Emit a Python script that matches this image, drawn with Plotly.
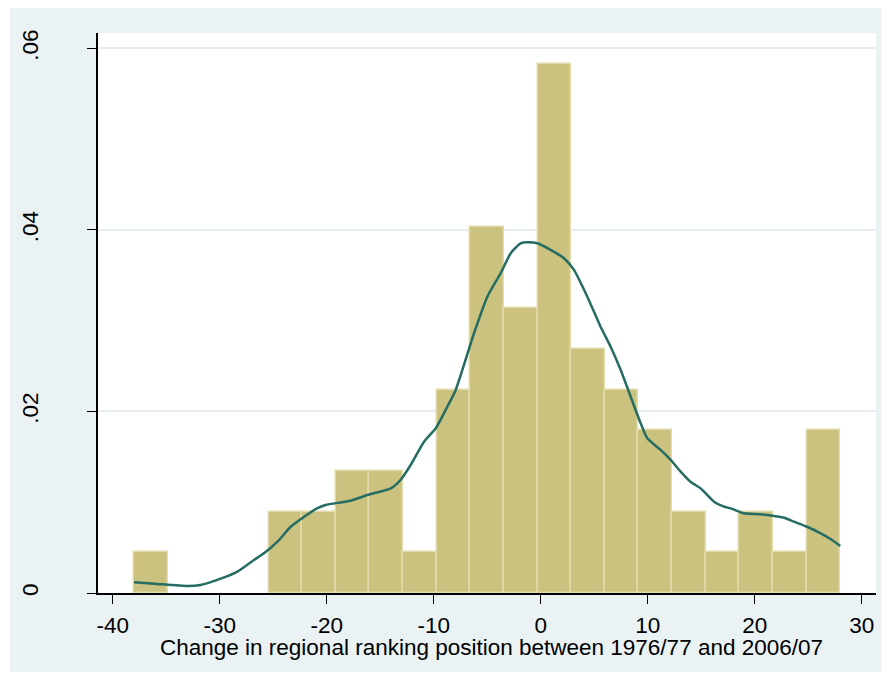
import plotly.graph_objects as go

# ---- data ----
bin_start = -38.0
bin_width = 66.0 / 21
counts = [1, 0, 0, 0, 2, 2, 3, 3, 1, 5, 9, 7, 13, 6, 5, 4, 2, 1, 2, 1, 4]
n_obs = 71

kde_x = [-38.0, -36.1, -33.0, -31.8, -29.9, -28.35, -26.8, -25.86, -24.6, -23.36,
         -22.1, -20.9, -20.1, -17.76, -16.2, -14.0, -13.1, -12.15, -10.9, -9.8,
         -8.72, -7.94, -6.23, -4.98, -3.74, -2.8, -1.87, -1.24, -0.31, 0.93,
         2.18, 3.11, 4.36, 5.6, 6.54, 7.48, 8.41, 9.35, 9.97, 11.21,
         12.15, 13.08, 14.0, 14.95, 16.2, 17.13, 17.76, 19.0, 20.56, 22.74,
         23.68, 24.9, 26.17, 27.1, 28.0]
kde_y = [0.00118, 0.00103, 0.00077, 0.00088, 0.00158, 0.00235, 0.00364, 0.00437, 0.00565, 0.0073,
         0.0084, 0.00933, 0.0097, 0.01017, 0.0108, 0.01153, 0.01245, 0.0141, 0.01667, 0.01815,
         0.02053, 0.02237, 0.02862, 0.03265, 0.03523, 0.03743, 0.03853, 0.03864, 0.03853, 0.0378,
         0.03688, 0.0356, 0.03265, 0.02934, 0.02714, 0.02457, 0.02163, 0.0187, 0.01705, 0.01576,
         0.01466, 0.01337, 0.01226, 0.01153, 0.01006, 0.00951, 0.00933, 0.00878, 0.00867, 0.0083,
         0.00786, 0.0073, 0.00658, 0.00595, 0.00518]

x_ticks = [-40, -30, -20, -10, 0, 10, 20, 30]
x_ticktext = ["-40", "-30", "-20", "-10", "0", "10", "20", "30"]
y_ticks = [0, 0.02, 0.04, 0.06]
y_ticktext = ["0", ".02", ".04", ".06"]
x_title = "Change in regional ranking position between 1976/77 and 2006/07"

# ---- derived ----
centers = [bin_start + (i + 0.5) * bin_width for i in range(len(counts))]
density = [c / (n_obs * bin_width) if c > 0 else None for c in counts]

BG = "#EAF2F3"
FONT = "Liberation Sans, Arial, sans-serif"

fig = go.Figure()
fig.add_trace(go.Bar(
    x=centers, y=density, width=bin_width,
    marker=dict(color="#CBC27F", line=dict(color="#E2DCAA", width=1.5)),
    hoverinfo="skip", showlegend=False,
))
fig.add_trace(go.Scatter(
    x=kde_x, y=kde_y, mode="lines",
    line=dict(color="#256C62", width=2.5, shape="spline", smoothing=0.6),
    showlegend=False,
))

# plot-area geometry (pixels)
W, H = 887, 680
L, R, T, B = 98, 11, 33, 87
pw, ph = W - L - R, H - T - B

def px(xp):
    return (xp - L) / pw

def py(yp):
    return (H - B - yp) / ph

fig.update_layout(
    width=W, height=H,
    margin=dict(l=L, r=R, t=T, b=B, pad=0),
    paper_bgcolor="white",
    plot_bgcolor="white",
    font=dict(family=FONT, size=22.5, color="#000000"),
    bargap=0,
    shapes=[
        dict(type="rect", xref="paper", yref="paper", layer="below",
             x0=px(10), x1=px(881), y0=py(672), y1=py(8),
             fillcolor=BG, line=dict(width=0)),
        dict(type="rect", xref="paper", yref="paper", layer="below",
             x0=0, x1=1, y0=0, y1=1,
             fillcolor="white", line=dict(width=0)),
    ],
    annotations=[
        dict(text=x_title, xref="paper", yref="paper",
             x=px(491), y=py(647), xanchor="center", yanchor="middle",
             showarrow=False, font=dict(size=22.5, color="black")),
    ],
    xaxis=dict(
        range=[-41.37, 31.34], tickvals=x_ticks, ticktext=x_ticktext,
        ticks="outside", ticklen=9, tickwidth=1.2, tickcolor="black",
        showline=True, linecolor="black", linewidth=1.5,
        showgrid=False, zeroline=False,
        tickfont=dict(size=22.5), ticklabelstandoff=2,
    ),
    yaxis=dict(
        range=[0, 0.0617], tickvals=y_ticks, ticktext=y_ticktext,
        ticks="outside", ticklen=9, tickwidth=1.2, tickcolor="black",
        showline=True, linecolor="black", linewidth=1.5,
        showgrid=True, gridcolor="#E6EEF0", gridwidth=1.5,
        zeroline=False, tickangle=-90,
        tickfont=dict(size=22.5), ticklabelstandoff=40,
    ),
)

fig.write_html("out.html")
